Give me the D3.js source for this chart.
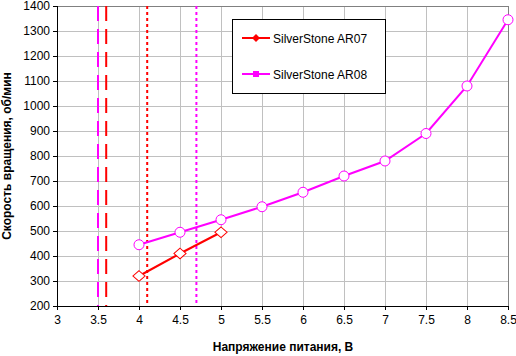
<!DOCTYPE html>
<html><head><meta charset="utf-8">
<script src="https://cdn.jsdelivr.net/npm/d3@7/dist/d3.min.js"></script>
<style>body{margin:0;background:#fff}svg{display:block;font-family:"Liberation Sans",Arial,sans-serif}</style>
</head><body><svg id="c" width="516" height="356"></svg>
<script>
const xAR07 = [4, 4.5, 5];
const yAR07 = [320, 410, 495];
const xAR08 = [4, 4.5, 5, 5.5, 6, 6.5, 7, 7.5, 8, 8.5];
const yAR08 = [445, 495, 545, 597, 655, 720, 780, 890, 1080, 1345];
const xTicks = [3, 3.5, 4, 4.5, 5, 5.5, 6, 6.5, 7, 7.5, 8, 8.5];
const yTicks = [200, 300, 400, 500, 600, 700, 800, 900, 1000, 1100, 1200, 1300, 1400];
const startAR08 = 3.5, startAR07 = 3.6, stopAR07 = 4.1, stopAR08 = 4.7;
const seriesNames = ["SilverStone AR07", "SilverStone AR08"];
const colors = ["#ff0000", "#ff00ff"];

const svg = d3.select("#c");
const L = 57, R = 508, T = 6, B = 306;
const x = d3.scaleLinear().domain([3, 8.5]).range([L, R]);
const y = d3.scaleLinear().domain([200, 1400]).range([B, T]);

// grid
svg.append("g").selectAll("line").data(xTicks.slice(1)).join("line")
  .attr("x1", d => x(d)).attr("x2", d => x(d)).attr("y1", T).attr("y2", B)
  .attr("stroke", "#c0c0c0").attr("shape-rendering", "crispEdges");
svg.append("g").selectAll("line").data(yTicks.slice(1)).join("line")
  .attr("x1", L).attr("x2", R).attr("y1", d => y(d)).attr("y2", d => y(d))
  .attr("stroke", "#c0c0c0").attr("shape-rendering", "crispEdges");
svg.append("rect").attr("x", L).attr("y", T).attr("width", R - L).attr("height", B - T)
  .attr("fill", "none").attr("stroke", "#808080").attr("shape-rendering", "crispEdges");

// vertical marker lines
function vline(v, col, dash) {
  svg.append("line").attr("x1", x(v)).attr("x2", x(v)).attr("y1", T).attr("y2", B)
    .attr("stroke", col).attr("stroke-width", 2).attr("stroke-dasharray", dash);
}
vline(startAR08, colors[1], "15,8");
vline(startAR07, colors[0], "15,8");
vline(stopAR07, colors[0], "3,3");
vline(stopAR08, colors[1], "3,3");

// axes
const xAxis = svg.append("g").attr("transform", `translate(0,${B})`)
  .call(d3.axisBottom(x).tickValues(xTicks).tickSize(4).tickPadding(5).tickFormat(d3.format("")));
const yAxis = svg.append("g").attr("transform", `translate(${L},0)`)
  .call(d3.axisLeft(y).tickValues(yTicks).tickSize(4).tickPadding(3).tickFormat(d3.format("")));
[xAxis, yAxis].forEach(a => {
  a.select(".domain").attr("stroke", "#000").attr("shape-rendering", "crispEdges");
  a.selectAll(".tick line").attr("stroke", "#000").attr("shape-rendering", "crispEdges");
  a.selectAll("text").attr("font-size", 12).attr("fill", "#000").attr("font-family", "Liberation Sans, Arial, sans-serif");
});

// series
const line = d3.line().x(d => x(d[0])).y(d => y(d[1]));
const d07 = xAR07.map((v, i) => [v, yAR07[i]]);
const d08 = xAR08.map((v, i) => [v, yAR08[i]]);
svg.append("path").datum(d07).attr("d", line).attr("fill", "none").attr("stroke", colors[0]).attr("stroke-width", 2);
svg.append("path").datum(d08).attr("d", line).attr("fill", "none").attr("stroke", colors[1]).attr("stroke-width", 2);
svg.append("g").selectAll("path").data(d07).join("path")
  .attr("d", d3.symbol(d3.symbolDiamond2, 70))
  .attr("transform", d => `translate(${x(d[0])},${y(d[1])}) scale(1.15,1)`)
  .attr("fill", "#fff").attr("stroke", colors[0]).attr("stroke-width", 1);
svg.append("g").selectAll("circle").data(d08).join("circle")
  .attr("cx", d => x(d[0])).attr("cy", d => y(d[1])).attr("r", 5)
  .attr("fill", "#fff").attr("stroke", colors[1]).attr("stroke-width", 1);

// legend
svg.append("rect").attr("x", 232.5).attr("y", 19.5).attr("width", 153).attr("height", 74)
  .attr("fill", "#fff").attr("stroke", "#000").attr("stroke-width", 1);
const legY = [38, 74];
seriesNames.forEach((n, i) => {
  svg.append("line").attr("x1", 242).attr("x2", 270).attr("y1", legY[i]).attr("y2", legY[i])
    .attr("stroke", colors[i]).attr("stroke-width", 2);
  if (i === 0) {
    svg.append("path").attr("d", d3.symbol(d3.symbolDiamond2, 40)).attr("transform", `translate(256,${legY[i]})`)
      .attr("fill", colors[i]);
  } else {
    svg.append("rect").attr("x", 253).attr("y", legY[i] - 3).attr("width", 6).attr("height", 6).attr("fill", colors[i]);
  }
  svg.append("text").attr("x", 273).attr("y", legY[i] + 4.5).attr("font-size", 12).text(n);
});

// titles
svg.append("text").attr("x", 283).attr("y", 351).attr("text-anchor", "middle")
  .attr("font-size", 12).attr("font-weight", "bold").text("Напряжение питания, В");
svg.append("text").attr("transform", `translate(11,${(T + B) / 2}) rotate(-90)`).attr("text-anchor", "middle")
  .attr("font-size", 12).attr("font-weight", "bold").text("Скорость вращения, об/мин");
</script></body></html>
